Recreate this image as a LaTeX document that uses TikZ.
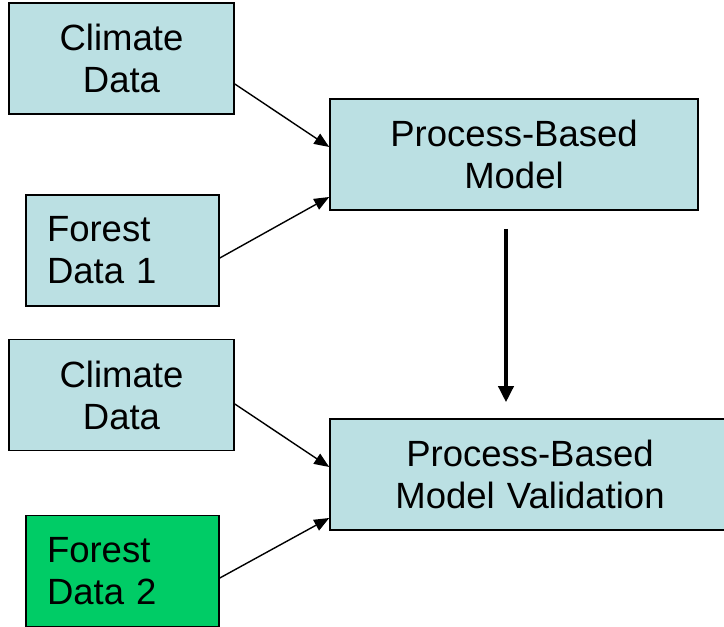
\documentclass[tikz,border=0pt]{standalone}
\usepackage{fontspec}
\setmainfont{Liberation Sans}
\usetikzlibrary{arrows.meta}
\definecolor{boxblue}{RGB}{187,224,227}
\definecolor{boxgreen}{RGB}{0,204,102}
\tikzset{
  box/.style={draw=black, line width=1.6pt, fill=boxblue, minimum height=111pt,
    inner ysep=0pt, font=\fontsize{36.5}{42}\selectfont},
  cbox/.style={box, align=center, inner xsep=0pt},
  lbox/.style={box, align=left, inner xsep=21pt, text width=151pt},
  thinarrow/.style={line width=1.4pt, -{Triangle[length=15pt,width=12pt]}},
  thickarrow/.style={line width=3.6pt, -{Triangle[length=16pt,width=15pt]}}
}
\begin{document}
\begin{tikzpicture}[x=1pt,y=-1pt]
\clip (0,0) rectangle (724,627);
\fill[white] (0,0) rectangle (724,627);
\node[cbox, text width=225pt, minimum width=225pt] (c1) at (121.5,58.5) {Climate\\Data};
\node[lbox] (f1) at (122.5,250.5) {Forest\\Data 1};
\node[cbox, text width=368pt, minimum width=368pt] (m1) at (514,154.5) {Process-Based\\Model};
\node[cbox, text width=225pt, minimum width=225pt] (c2) at (121.5,395) {Climate\\Data};
\node[lbox, fill=boxgreen] (f2) at (122.5,571) {Forest\\Data 2};
\node[cbox, text width=400pt, minimum width=400pt] (v) at (530,474.5) {Process-Based\\Model Validation};
\draw[thinarrow] ([yshift=-25.5pt]c1.east) -- ([yshift=7.5pt]m1.west);
\draw[thinarrow] ([yshift=-7.5pt]f1.east) -- ([yshift=-42.5pt]m1.west);
\draw[thickarrow] ([xshift=-8pt,yshift=-18pt]m1.south) -- ([xshift=-24pt,yshift=16pt]v.north);
\draw[thinarrow] ([yshift=-9pt]c2.east) -- ([yshift=7.5pt]v.west);
\draw[thinarrow] ([yshift=-7pt]f2.east) -- ([yshift=-43.5pt]v.west);
\end{tikzpicture}
\end{document}
